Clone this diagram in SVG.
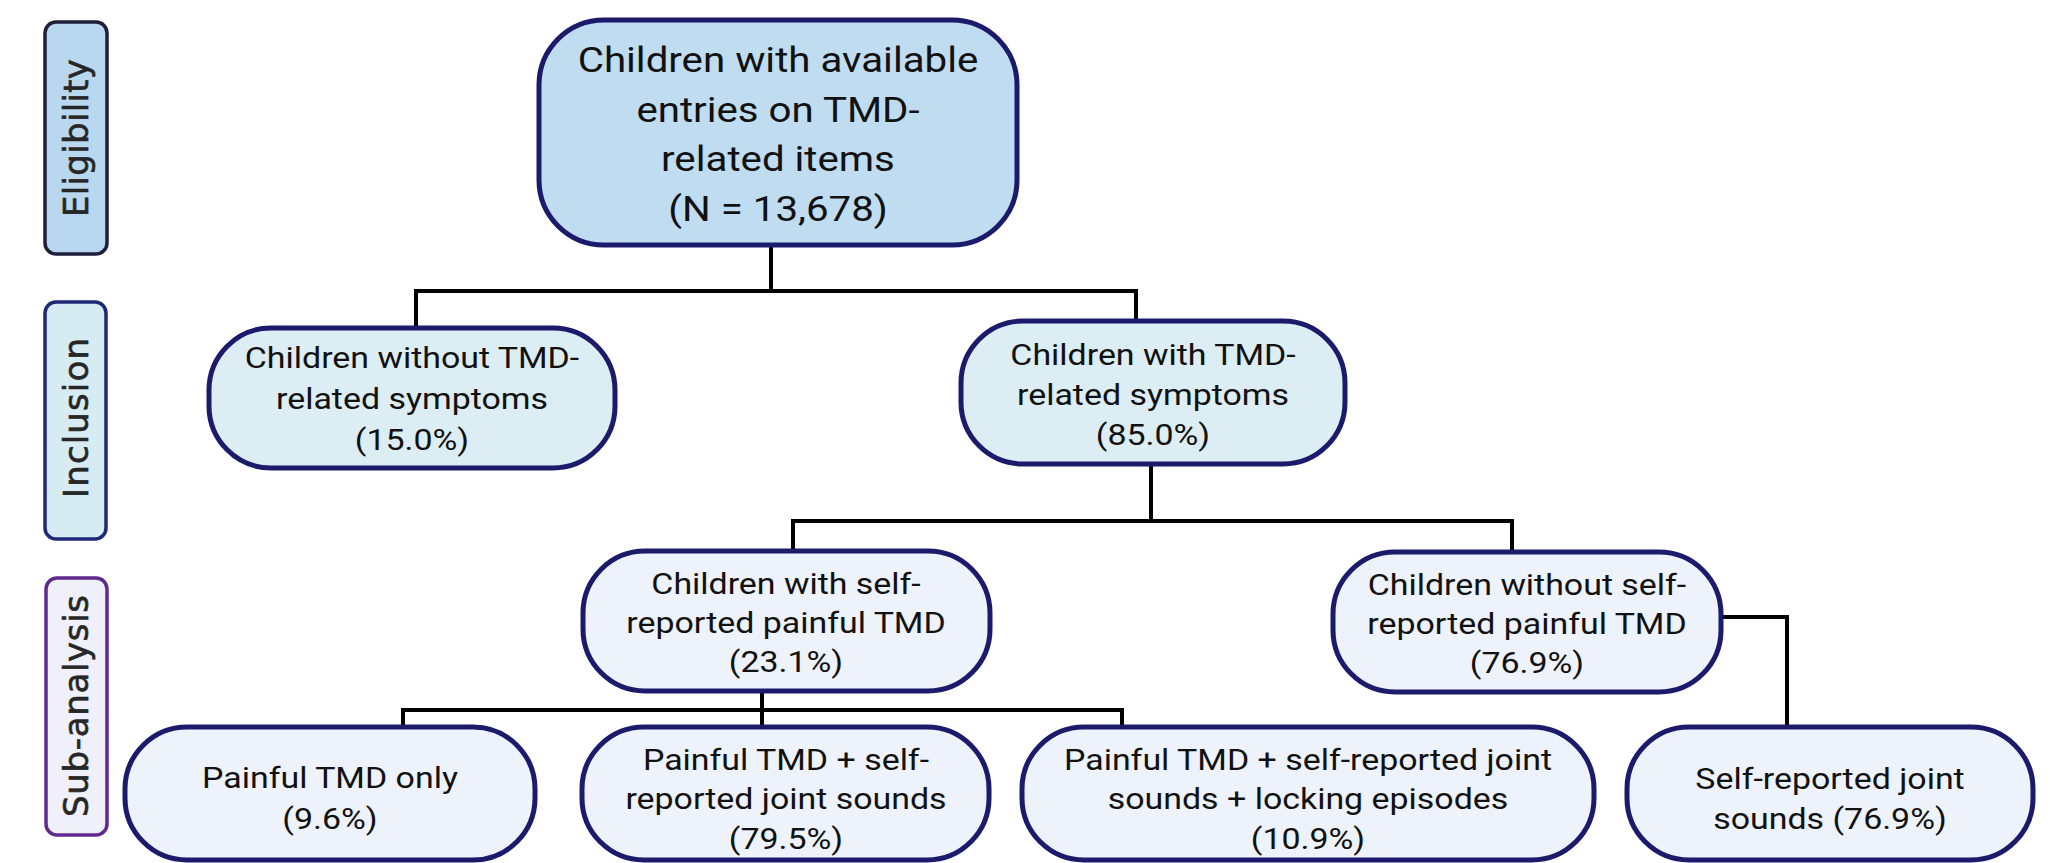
<svg xmlns="http://www.w3.org/2000/svg" width="2050" height="863" viewBox="0 0 2050 863">
<style>
.node{stroke:#1b1a6b;stroke-width:5}
.n0{fill:#bfdcf1}
.n1{fill:#dcedf3}
.n2{fill:#edf2fb}
.t{font-family:Roboto,"Liberation Sans",sans-serif;fill:#111;text-anchor:middle}
.t0{font-size:35px}
.t1{font-size:29.5px}
.side{font-family:"DejaVu Sans",Verdana,sans-serif;font-size:34px;fill:#262626;stroke:#262626;stroke-width:0.6;text-anchor:middle}
.conn{fill:none;stroke:#000;stroke-width:4;stroke-linejoin:miter;stroke-linecap:square}
</style>
<rect width="2050" height="863" fill="#fff"/>

<g id="label-eligibility">
<rect x="45" y="22" width="62" height="232" rx="11" fill="#b9d8f0" stroke="#1f1f3a" stroke-width="3.5"/>
<text class="side" transform="translate(76,138) rotate(-90)" y="12" textLength="158" lengthAdjust="spacing">Eligibility</text>
</g>
<g id="label-inclusion">
<rect x="45" y="302" width="61" height="237" rx="11" fill="#d7ecf2" stroke="#1e2a78" stroke-width="3.5"/>
<text class="side" transform="translate(76,418) rotate(-90)" y="12" textLength="160" lengthAdjust="spacing">Inclusion</text>
</g>
<g id="label-subanalysis">
<rect x="46" y="578" width="61" height="257" rx="11" fill="#f0f0fa" stroke="#5e2a8e" stroke-width="3.5"/>
<text class="side" transform="translate(76,706) rotate(-90)" y="12" textLength="222" lengthAdjust="spacing">Sub-analysis</text>
</g>

<g id="connectors">
<path class="conn" d="M771 245 V291 M416 328 V291 H1136 V321"/>
<path class="conn" d="M1151 464 V521 M793 551 V521 H1512 V552"/>
<path class="conn" d="M762 691 V727 M403 727 V710 H1122 V727"/>
<path class="conn" d="M1721 617 H1787 V727"/>
</g>

<g id="node-all">
<rect class="node n0" x="539" y="20" width="478" height="225" rx="65"/>
<g transform="translate(778,0) scale(1.15,1)">
<text class="t t0"><tspan x="0" y="72">Children with available</tspan><tspan x="0" y="122">entries on TMD-</tspan><tspan x="0" y="171">related items</tspan><tspan x="0" y="221">(N = 13,678)</tspan></text>
</g>
</g>

<g id="node-without-tmd">
<rect class="node n1" x="209" y="328" width="406" height="140" rx="62"/>
<g transform="translate(412,0) scale(1.15,1)">
<text class="t t1"><tspan x="0" y="368">Children without TMD-</tspan><tspan x="0" y="409">related symptoms</tspan><tspan x="0" y="450">(15.0%)</tspan></text>
</g>
</g>

<g id="node-with-tmd">
<rect class="node n1" x="961" y="321" width="384" height="143" rx="62"/>
<g transform="translate(1153,0) scale(1.15,1)">
<text class="t t1"><tspan x="0" y="365">Children with TMD-</tspan><tspan x="0" y="405">related symptoms</tspan><tspan x="0" y="445">(85.0%)</tspan></text>
</g>
</g>

<g id="node-painful">
<rect class="node n2" x="583" y="551" width="407" height="140" rx="62"/>
<g transform="translate(786,0) scale(1.15,1)">
<text class="t t1"><tspan x="0" y="594">Children with self-</tspan><tspan x="0" y="633">reported painful TMD</tspan><tspan x="0" y="672">(23.1%)</tspan></text>
</g>
</g>

<g id="node-not-painful">
<rect class="node n2" x="1333" y="552" width="388" height="140" rx="62"/>
<g transform="translate(1527,0) scale(1.15,1)">
<text class="t t1"><tspan x="0" y="595">Children without self-</tspan><tspan x="0" y="634">reported painful TMD</tspan><tspan x="0" y="673">(76.9%)</tspan></text>
</g>
</g>

<g id="node-painful-only">
<rect class="node n2" x="125" y="727" width="410" height="133" rx="62"/>
<g transform="translate(330,0) scale(1.15,1)">
<text class="t t1"><tspan x="0" y="788">Painful TMD only</tspan><tspan x="0" y="829">(9.6%)</tspan></text>
</g>
</g>

<g id="node-painful-sounds">
<rect class="node n2" x="582" y="727" width="407" height="133" rx="62"/>
<g transform="translate(786,0) scale(1.15,1)">
<text class="t t1"><tspan x="0" y="770">Painful TMD + self-</tspan><tspan x="0" y="809">reported joint sounds</tspan><tspan x="0" y="849">(79.5%)</tspan></text>
</g>
</g>

<g id="node-painful-sounds-locking">
<rect class="node n2" x="1022" y="727" width="572" height="133" rx="62"/>
<g transform="translate(1308,0) scale(1.15,1)">
<text class="t t1"><tspan x="0" y="770">Painful TMD + self-reported joint</tspan><tspan x="0" y="809">sounds + locking episodes</tspan><tspan x="0" y="849">(10.9%)</tspan></text>
</g>
</g>

<g id="node-sounds">
<rect class="node n2" x="1627" y="727" width="406" height="133" rx="62"/>
<g transform="translate(1830,0) scale(1.15,1)">
<text class="t t1"><tspan x="0" y="789">Self-reported joint</tspan><tspan x="0" y="829">sounds (76.9%)</tspan></text>
</g>
</g>
</svg>
